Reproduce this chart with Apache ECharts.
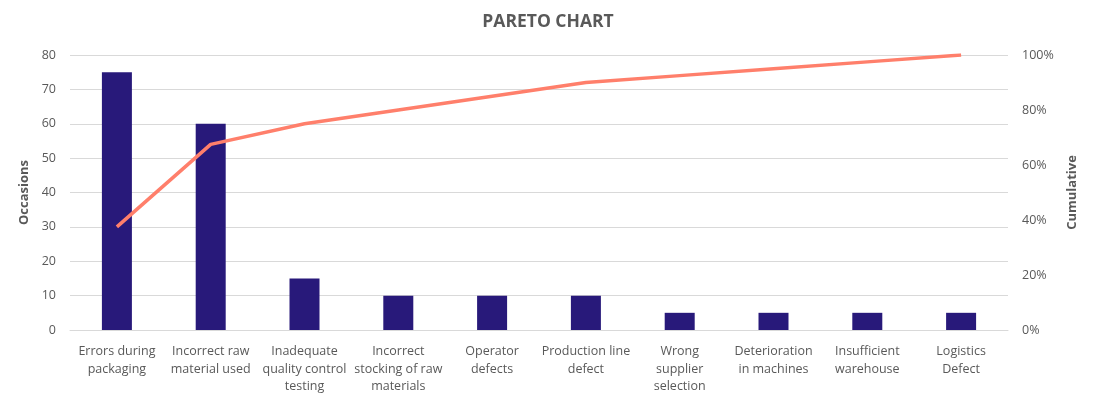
<!DOCTYPE html>
<html>
<head>
<meta charset="utf-8">
<script src="https://cdn.jsdelivr.net/npm/echarts@6/dist/echarts.min.js"></script>
<style>
html,body{margin:0;padding:0;background:#fff;}
#chart{width:1096px;height:400px;}
</style>
</head>
<body>
<div id="chart"></div>
<script>
const categories = [
  "Errors during\npackaging",
  "Incorrect raw\nmaterial used",
  "Inadequate\nquality control\ntesting",
  "Incorrect\nstocking of raw\nmaterials",
  "Operator\ndefects",
  "Production line\ndefect",
  "Wrong\nsupplier\nselection",
  "Deterioration\nin machines",
  "Insufficient\nwarehouse",
  "Logistics\nDefect"
];
const occasions = [75, 60, 15, 10, 10, 10, 5, 5, 5, 5];
const cumulative = [37.5, 67.5, 75, 80, 85, 90, 92.5, 95, 97.5, 100];
const leftTicks = { min: 0, max: 80, interval: 10 };
const rightTicks = { min: 0, max: 100, interval: 20 };

const FONT = '"Open Sans", "Liberation Sans", sans-serif';
const TXT = '#595959';
const chart = echarts.init(document.getElementById('chart'), null, { renderer: 'canvas' });
chart.setOption({
  animation: false,
  backgroundColor: '#ffffff',
  title: {
    text: 'PARETO CHART',
    left: 'center',
    top: 8,
    textStyle: { fontFamily: FONT, fontSize: 17.5, fontWeight: 'bold', color: TXT }
  },
  grid: { left: 70, right: 88, top: 55, bottom: 70, containLabel: false },
  xAxis: {
    type: 'category',
    data: categories,
    axisLine: { lineStyle: { color: '#d9d9d9', width: 1 } },
    axisTick: { show: false },
    axisLabel: { interval: 0, color: TXT, fontFamily: FONT, fontSize: 12.5, lineHeight: 17.5, margin: 13 }
  },
  yAxis: [
    {
      type: 'value', min: leftTicks.min, max: leftTicks.max, interval: leftTicks.interval,
      name: 'Occasions', nameLocation: 'middle', nameGap: 29, nameRotate: 90,
      nameTextStyle: { fontFamily: FONT, fontSize: 13, fontWeight: 'bold', color: TXT },
      axisLine: { show: false }, axisTick: { show: false },
      axisLabel: { color: TXT, fontFamily: FONT, fontSize: 12.5, margin: 14 },
      splitLine: { lineStyle: { color: '#d9d9d9', width: 1 } }
    },
    {
      type: 'value', min: rightTicks.min, max: rightTicks.max, interval: rightTicks.interval,
      name: 'Cumulative', nameLocation: 'middle', nameGap: 58, nameRotate: 90,
      nameTextStyle: { fontFamily: FONT, fontSize: 13, fontWeight: 'bold', color: TXT },
      axisLine: { show: false }, axisTick: { show: false },
      axisLabel: { color: TXT, fontFamily: FONT, fontSize: 12.5, margin: 14, formatter: '{value}%' },
      splitLine: { show: false }
    }
  ],
  series: [
    {
      type: 'bar', name: 'Occasions', data: occasions, yAxisIndex: 0,
      barWidth: 30,
      itemStyle: { color: '#28197A' }
    },
    {
      type: 'line', name: 'Cumulative', data: cumulative, yAxisIndex: 1,
      symbol: 'none',
      lineStyle: { color: '#FF7F6B', width: 3.5 },
      z: 5
    }
  ]
});
</script>
</body>
</html>
